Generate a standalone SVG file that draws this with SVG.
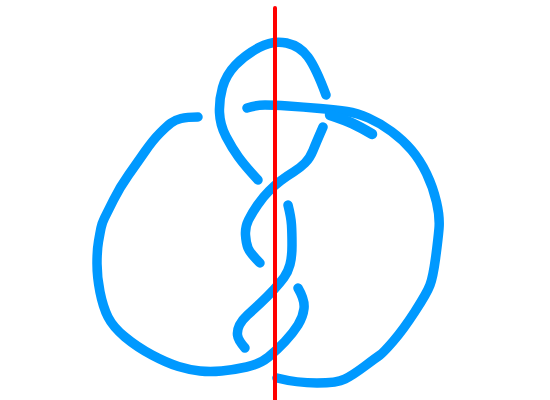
<svg xmlns="http://www.w3.org/2000/svg" width="550" height="400" viewBox="0 0 550 400">
<style>
.k{fill:none;stroke:#0099FF;stroke-width:9.5;stroke-linecap:round;stroke-linejoin:round}
.ax{fill:none;stroke:#FF0000;stroke-width:4;stroke-linecap:round}
</style>
<rect width="550" height="400" fill="#FFFFFF"/>
<g id="knot">
<path class="k" d="M198,117 Q187,117 181,118.5 Q175,120 171,123 Q167,126 160,133 Q153,140 145,151.5 Q137,163 128.5,175 Q120,187 113.5,200 Q107,213 104.5,218 Q102,223 101,228 Q100,233 98.5,241.5 Q97,250 97,263.5 Q97,277 100,292 Q103,307 108,317 Q113,327 125,337 Q137,347 152,355 Q167,363 178.5,366.5 Q190,370 200,371 Q210,372 221.5,371 Q233,370 246.5,367 Q260,364 268.5,357 Q277,350 285,341.5 Q293,333 298,325 Q303,317 304,308.5 Q305,300 298,288"/>
<path class="k" d="M277,378 Q297,383 317,383 Q337,383 345,379 Q353,375 365,366 Q377,357 380,355 Q383,353 393,341.5 Q403,330 415,311.5 Q427,293 430,285 Q433,277 435.5,258.5 Q438,240 439,228.5 Q440,217 436.5,202 Q433,187 426.5,173.5 Q420,160 411.5,150 Q403,140 391.5,131.5 Q380,123 368.5,118 Q357,113 347,111.5 Q337,110 320,108.5 Q303,107 288,106 Q273,105 265,105 Q257,105 247,108"/>
<path class="k" style="stroke-width:10.5" d="M330,115 Q345,120 352.5,123.5 Q360,127 372,134"/>
<path class="k" d="M258,180 Q245,166 238.5,157 Q232,148 226,136.5 Q220,125 219.5,112.5 Q219,100 222.5,87.5 Q226,75 235.5,65 Q245,55 259,47.5 Q273,40 286.5,43 Q300,46 308,57 Q316,68 326,95"/>
<path class="k" d="M323,127 Q316,143 313,150.5 Q310,158 305,163 Q300,168 293.5,172 Q287,176 281,180.5 Q275,185 269,191 Q263,197 257.5,205 Q252,213 248.5,220 Q245,227 245.5,235 Q246,243 248,248 Q250,253 260,263"/>
<path class="k" d="M288,205 Q291,217 291.5,225 Q292,233 292,245 Q292,257 290,264.5 Q288,272 284,277.5 Q280,283 273.5,290 Q267,297 260,303.5 Q253,310 247.5,315 Q242,320 239.5,325 Q237,330 237.5,335 Q238,340 245,348"/>
</g>
<g id="axis">
<line class="ax" x1="275" y1="8" x2="275" y2="400"/>
</g>
</svg>
